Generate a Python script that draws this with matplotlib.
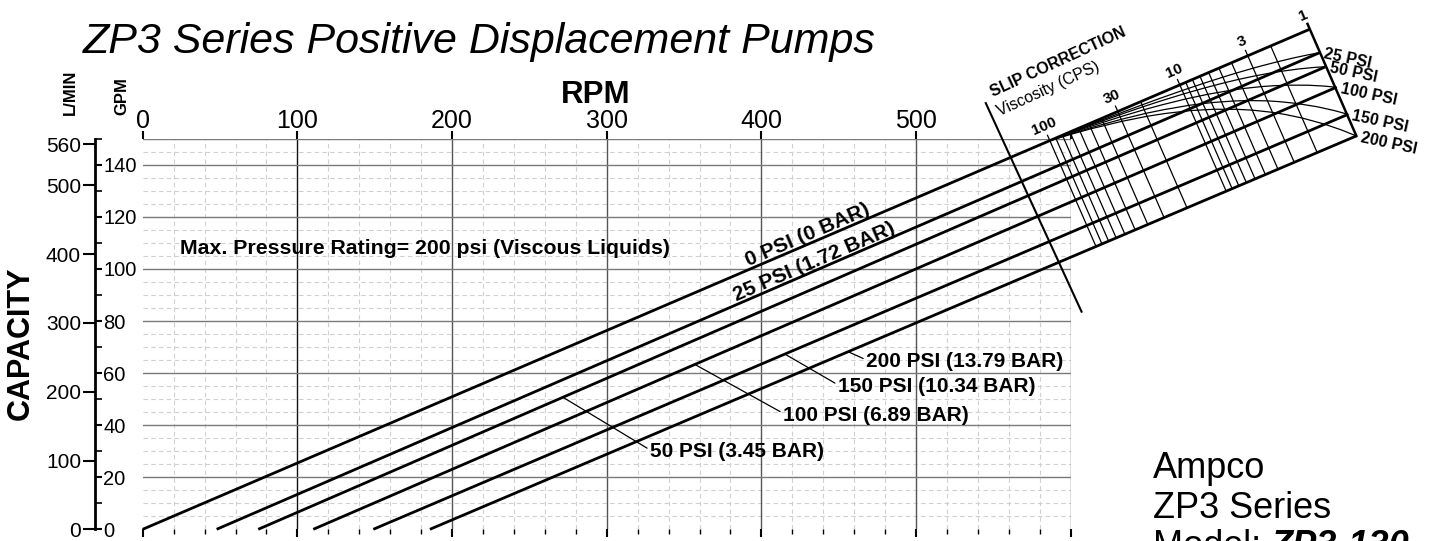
import numpy as np
import matplotlib

matplotlib.use("Agg")
import matplotlib.pyplot as plt
from matplotlib.ticker import MultipleLocator

plt.rcParams["font.family"] = ["Liberation Sans", "DejaVu Sans"]

W, H, DPI = 1431, 541, 100

# pump lines: capacity vs speed, one per discharge pressure
PRESSURES = [0, 25, 50, 100, 150, 200]
BARS = ["0", "1.72", "3.45", "6.89", "10.34", "13.79"]
START_RPM = [0, 47.8, 74.7, 110.3, 149.1, 185.7]        # zero-flow intercept
END_RPM = [754.6, 761.0, 764.9, 771.8, 779.3, 784.7]     # meets the 1 cps edge
END_GPM = [192.1, 183.1, 177.7, 169.8, 159.4, 151.1]

# slip correction nomogram
SCALE_START_RPM = 586.5                                  # 100 cps on the 0 psi line
VISC_GRID = [100, 90, 80, 70, 60, 50, 40, 30, 20, 10, 9, 8, 7, 6, 5, 4, 3, 2]
VISC_LABELS = [100, 30, 10, 3, 1]
VISC_CURVE = [100, 70, 50, 30, 20, 15, 10, 7, 5, 4, 3, 2.5, 2, 1.5, 1.2, 1]
SLIP_FRAC = [0, 0.022, 0.046, 0.092, 0.137, 0.176, 0.240, 0.309, 0.386,
             0.444, 0.530, 0.592, 0.675, 0.796, 0.903, 1.0]
LEFT_EDGE_RPM = [545.1, 607.0]
LEFT_EDGE_GPM = [163.7, 83.6]

# callouts for the lower lines: (line point rpm, label rpm, label gpm)
CALLOUT_RPM = [271.7, 357.0, 415.2, 456.1]
CALLOUT_TXT = [(327.9, 29.8), (413.9, 43.9), (449.4, 54.8), (467.6, 64.4)]
INLINE_RPM = [391.5, 384.0]   # where the 0 and 25 psi labels start

LPM_PER_GPM = 3.785

fig = plt.figure(figsize=(W / DPI, H / DPI), dpi=DPI)
fig.patch.set_facecolor("white")

AX_L, AX_R, AX_T, AX_B = 142.7, 1070.7, 138.8, 529.3
ax = fig.add_axes([AX_L / W, 1 - AX_B / H, (AX_R - AX_L) / W, (AX_B - AX_T) / H])
ax.set_xlim(0, 600)
ax.set_ylim(0, 150)
ax.patch.set_alpha(0)
for s in ax.spines.values():
    s.set_visible(False)

# grid, drawn by hand so the zero lines stay off
for r in range(20, 600, 20):
    if r % 100:
        ax.axvline(r, color="#d0d0d0", lw=0.8, ls=(0, (4, 3)), zorder=0)
for g in range(5, 150, 5):
    if g % 20:
        ax.axhline(g, color="#d0d0d0", lw=0.8, ls=(0, (4, 3)), zorder=0)
for r in range(100, 700, 100):
    ax.axvline(r, color="#555555" if r != 100 else "#111111", lw=1.0, zorder=1)
for g in range(20, 160, 20):
    ax.axhline(g, color="#7a7a7a", lw=1.0, zorder=1)
ax.axhline(150, color="#7a7a7a", lw=1.0, zorder=1)

ax.set_xticks(range(0, 700, 100), labels=["0", "100", "200", "300", "400", "500", ""])
ax.xaxis.set_minor_locator(MultipleLocator(20))
ax.tick_params(axis="x", which="major", top=True, bottom=True, labeltop=True,
               labelbottom=False, length=5.5, width=1.5, labelsize=18, pad=-1)
ax.tick_params(axis="x", which="minor", top=False, bottom=True, length=3.5, width=1.0)
ax.set_yticks([])

fig.text(596 / W, 1 - 95 / H, "RPM", fontsize=22.5, fontweight="bold",
         ha="center", va="center")


def on_line(i, r):
    m = END_GPM[i] / (END_RPM[i] - START_RPM[i])
    return m * (r - START_RPM[i])


# pump lines
for i in range(len(PRESSURES)):
    ax.plot([START_RPM[i], END_RPM[i]], [0, END_GPM[i]], color="black",
            lw=2.0, clip_on=False, solid_capstyle="butt", zorder=3)

# nomogram
def visc_rpm(v):
    u = np.log10(100.0 / v) / 2.0
    return SCALE_START_RPM + u * (END_RPM[0] - SCALE_START_RPM)


dx = END_RPM[-1] - END_RPM[0]
dy = END_GPM[-1] - END_GPM[0]
m5 = END_GPM[-1] / (END_RPM[-1] - START_RPM[-1])


def to_bottom(r, g):
    return (g - m5 * (r - START_RPM[-1])) / (m5 * dx - dy)


for v in VISC_GRID:
    r = visc_rpm(v)
    g = on_line(0, r)
    s1 = to_bottom(r, g)
    s0 = -0.05 if v in VISC_LABELS else 0.0
    ax.plot([r + s0 * dx, r + s1 * dx], [g + s0 * dy, g + s1 * dy],
            color="black", lw=0.9, clip_on=False, zorder=3)

# 1 cps edge and the left edge of the slip scale
ax.plot([END_RPM[0] - 0.05 * dx, END_RPM[-1]], [END_GPM[0] - 0.05 * dy, END_GPM[-1]],
        color="black", lw=1.8, clip_on=False, zorder=3)
ax.plot(LEFT_EDGE_RPM, LEFT_EDGE_GPM, color="black", lw=1.5, clip_on=False, zorder=3)

vr = np.array([visc_rpm(v) for v in VISC_CURVE])
vg = np.array([on_line(0, r) for r in vr])
frac = np.array(SLIP_FRAC)
for i in range(1, len(PRESSURES)):
    ax.plot(vr + frac * (END_RPM[i] - END_RPM[0]), vg + frac * (END_GPM[i] - END_GPM[0]),
            color="black", lw=0.9, clip_on=False, zorder=3)

a = ax.transData.transform([(0, 0), (END_RPM[0], END_GPM[0])])
ang = np.degrees(np.arctan2(a[1, 1] - a[0, 1], a[1, 0] - a[0, 0]))
nx, ny = -np.sin(np.radians(ang)), np.cos(np.radians(ang))

for v in VISC_LABELS:
    r = visc_rpm(v)
    ax.annotate(str(v), xy=(r, on_line(0, r)), xytext=(nx * 11, ny * 11),
                textcoords="offset points", ha="center", va="center",
                rotation=ang, fontsize=11, fontweight="bold", annotation_clip=False)

for i in range(1, len(PRESSURES)):
    ax.annotate(f"{PRESSURES[i]} PSI", xy=(END_RPM[i], END_GPM[i]), xytext=(3, -1),
                textcoords="offset points", ha="left", va="center", rotation=-12,
                rotation_mode="anchor", fontsize=11.5, fontweight="bold",
                annotation_clip=False)

fig.text(993 / W, 1 - 97 / H, "SLIP CORRECTION", fontsize=11.5, fontweight="bold",
         rotation=ang + 1.5, rotation_mode="anchor", ha="left", va="baseline")
fig.text(1000 / W, 1 - 116 / H, "Viscosity (CPS)", fontsize=11.5,
         rotation=ang + 1.5, rotation_mode="anchor", ha="left", va="baseline")

# line labels
for i, r in zip([0, 1], INLINE_RPM):
    ax.text(r, on_line(i, r) + 1.2, f"{PRESSURES[i]} PSI ({BARS[i]} BAR)",
            rotation=ang, rotation_mode="anchor", ha="left", va="baseline",
            fontsize=15, fontweight="bold", zorder=4)

for k, i in enumerate([2, 3, 4, 5]):
    r = CALLOUT_RPM[k]
    ax.annotate(f"{PRESSURES[i]} PSI ({BARS[i]} BAR)", xy=(r, on_line(i, r)),
                xytext=CALLOUT_TXT[k], textcoords="data", ha="left", va="center",
                fontsize=15, fontweight="bold", zorder=4,
                arrowprops=dict(arrowstyle="-", color="black", lw=0.9,
                                shrinkA=0, shrinkB=0, relpos=(0, 0.6)))

ax.text(24.1, 105.8, "Max. Pressure Rating= 200 psi (Viscous Liquids)",
        fontsize=15.3, fontweight="bold", va="baseline", zorder=4)

# capacity scales: L/min to the left of the spine, GPM to the right
sc = fig.add_axes([95 / W, 1 - AX_B / H, 47 / W, (AX_B - AX_T) / H])
sc.patch.set_alpha(0)
sc.set_ylim(0, 150 * LPM_PER_GPM)
sc.set_xticks([])
for k, s in sc.spines.items():
    s.set_visible(k == "left")
sc.spines["left"].set_linewidth(2.0)
sc.set_yticks([0, 100, 200, 300, 400, 500, 560])
sc.tick_params(axis="y", length=9, width=1.5, labelsize=15, pad=1)

gp = sc.twinx()
gp.set_ylim(0, 150)
for k, s in gp.spines.items():
    s.set_visible(False)
gp.spines["right"].set_position(("axes", 0))
gp.set_yticks(range(0, 160, 20))
gp.yaxis.set_minor_locator(MultipleLocator(10))
gp.tick_params(axis="y", which="major", length=5, width=1.5, labelsize=14.5, pad=1)
gp.tick_params(axis="y", which="minor", length=5, width=1.2)

fig.text(70 / W, 1 - 92 / H, "L/MIN", rotation=90, fontsize=12, fontweight="bold",
         ha="center", va="center")
fig.text(122 / W, 1 - 96 / H, "GPM", rotation=90, fontsize=12, fontweight="bold",
         ha="center", va="center")
fig.text(21 / W, 1 - 343 / H, "CAPACITY", rotation=90, fontsize=22, fontweight="bold",
         ha="center", va="center")

fig.text(83 / W, 1 - 53 / H, "ZP3 Series Positive Displacement Pumps", fontsize=31,
         fontstyle="italic", ha="left", va="baseline")

fig.text(1153 / W, 1 - 478 / H, "Ampco", fontsize=26, ha="left", va="baseline")
fig.text(1153 / W, 1 - 518 / H, "ZP3 Series", fontsize=26, ha="left", va="baseline")
t = fig.text(1153 / W, 1 - 556 / H, "Model: ", fontsize=26, ha="left", va="baseline")
ax.annotate("ZP3-130", xy=(1, 0), xycoords=t, ha="left", va="bottom", fontsize=26,
            fontweight="bold", fontstyle="italic")

fig.savefig("out.png", dpi=DPI)
